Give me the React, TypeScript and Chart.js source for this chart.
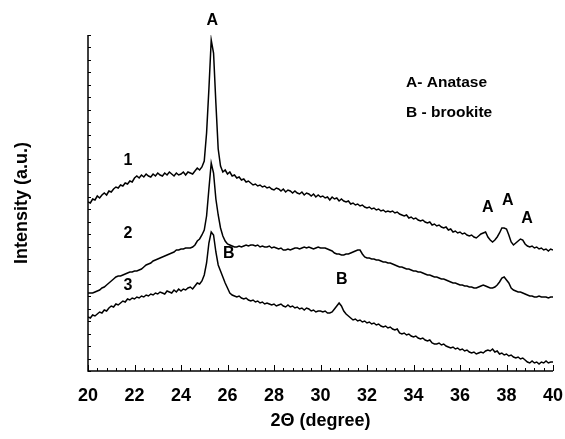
import { useEffect, useRef } from "react";
import { Chart, registerables } from "chart.js";

Chart.register(...registerables);

// 2θ grid (degrees), 0.1° steps
const angles = [
  20.0, 20.1, 20.2, 20.3, 20.4, 20.5, 20.6, 20.7, 20.8, 20.9,
  21.0, 21.1, 21.2, 21.3, 21.4, 21.5, 21.6, 21.7, 21.8, 21.9,
  22.0, 22.1, 22.2, 22.3, 22.4, 22.5, 22.6, 22.7, 22.8, 22.9,
  23.0, 23.1, 23.2, 23.3, 23.4, 23.5, 23.6, 23.7, 23.8, 23.9,
  24.0, 24.1, 24.2, 24.3, 24.4, 24.5, 24.6, 24.7, 24.8, 24.9,
  25.0, 25.1, 25.2, 25.3, 25.4, 25.5, 25.6, 25.7, 25.8, 25.9,
  26.0, 26.1, 26.2, 26.3, 26.4, 26.5, 26.6, 26.7, 26.8, 26.9,
  27.0, 27.1, 27.2, 27.3, 27.4, 27.5, 27.6, 27.7, 27.8, 27.9,
  28.0, 28.1, 28.2, 28.3, 28.4, 28.5, 28.6, 28.7, 28.8, 28.9,
  29.0, 29.1, 29.2, 29.3, 29.4, 29.5, 29.6, 29.7, 29.8, 29.9,
  30.0, 30.1, 30.2, 30.3, 30.4, 30.5, 30.6, 30.7, 30.8, 30.9,
  31.0, 31.1, 31.2, 31.3, 31.4, 31.5, 31.6, 31.7, 31.8, 31.9,
  32.0, 32.1, 32.2, 32.3, 32.4, 32.5, 32.6, 32.7, 32.8, 32.9,
  33.0, 33.1, 33.2, 33.3, 33.4, 33.5, 33.6, 33.7, 33.8, 33.9,
  34.0, 34.1, 34.2, 34.3, 34.4, 34.5, 34.6, 34.7, 34.8, 34.9,
  35.0, 35.1, 35.2, 35.3, 35.4, 35.5, 35.6, 35.7, 35.8, 35.9,
  36.0, 36.1, 36.2, 36.3, 36.4, 36.5, 36.6, 36.7, 36.8, 36.9,
  37.0, 37.1, 37.2, 37.3, 37.4, 37.5, 37.6, 37.7, 37.8, 37.9,
  38.0, 38.1, 38.2, 38.3, 38.4, 38.5, 38.6, 38.7, 38.8, 38.9,
  39.0, 39.1, 39.2, 39.3, 39.4, 39.5, 39.6, 39.7, 39.8, 39.9,
  40.0,
];

// Intensity (a.u.) of each sample (curves stacked with offsets as in the figure)
const sample1 = [
  169, 168, 172, 171, 175, 173, 176, 178, 176, 180,
  179, 182, 184, 183, 186, 185, 188, 187, 190, 189,
  193, 195, 193, 196, 194, 197, 195, 194, 197, 195,
  198, 196, 195, 198, 196, 199, 197, 195, 198, 196,
  197, 199, 196, 199, 198, 197, 200, 203, 201, 204,
  210, 238, 282, 331, 318, 268, 222, 205, 199, 201,
  197, 199, 195, 196, 193, 194, 191, 192, 189, 190,
  188, 186, 187, 185, 186, 184, 185, 183, 184, 182,
  181, 183, 182, 180, 182, 179, 181, 180, 178, 180,
  178, 177, 179, 176, 178, 177, 175, 177, 174, 176,
  174, 175, 173, 174, 171, 174, 172, 173, 170, 172,
  170, 169, 170, 167, 168, 166, 167, 165, 166, 164,
  163, 164, 162, 163, 161, 162, 160, 161, 159, 160,
  159, 160, 158, 159, 157, 156, 155, 156, 153, 154,
  152, 153, 151, 150, 151, 149, 148, 149, 146, 147,
  145, 146, 144, 143, 144, 141, 142, 139, 140, 138,
  139, 137, 138, 136, 135, 136, 134, 133, 135, 137,
  138, 139, 134, 131, 129, 131, 134, 138, 143, 143,
  142, 136, 129, 126, 128, 130, 132, 131, 127, 125,
  124, 125, 123, 124, 122, 123, 121, 122, 120, 122,
  121,
];

const sample2 = [
  78, 78, 78, 79, 80, 81, 83, 84, 86, 88,
  90, 92, 94, 95, 95, 96, 97, 98, 99, 99,
  100, 100, 101, 102, 104, 106, 107, 108, 110, 111,
  112, 113, 114, 115, 116, 117, 118, 119, 121, 121,
  122, 122, 123, 123, 123, 124, 126, 130, 132, 136,
  141, 155, 182, 208, 198, 172, 156, 143, 135, 130,
  127, 126, 125, 124, 124, 125, 124, 125, 126, 125,
  126, 126, 125, 126, 124, 125, 124, 124, 125, 123,
  124, 123, 122, 123, 121, 121, 122, 121, 122, 123,
  123, 122, 123, 124, 123, 124, 123, 122, 123, 124,
  123, 123, 123, 122, 121, 120, 118, 117, 117, 116,
  116, 117, 117, 118, 119, 120, 121, 121, 117, 114,
  113, 113, 112, 112, 111, 111, 110, 109, 109, 108,
  108, 107, 106, 105, 104, 104, 103, 102, 102, 101,
  100, 100, 99, 99, 98, 97, 96, 96, 95, 94,
  94, 93, 92, 92, 91, 90, 89, 88, 88, 87,
  86, 86, 85, 85, 84, 84, 83, 83, 84, 85,
  86, 85, 84, 83, 83, 84, 86, 89, 93, 94,
  91, 88, 83, 81, 80, 79, 79, 78, 77, 76,
  75, 75, 74, 74, 75, 74, 74, 74, 73, 74,
  74,
];

const sample3 = [
  54, 53, 56, 55, 57, 59, 58, 61, 60, 63,
  65, 64, 67, 66, 68, 70, 69, 72, 71, 73,
  72, 74, 73, 75, 74, 76, 75, 77, 76, 78,
  77, 79, 78, 77, 80, 79, 78, 81, 79, 82,
  80, 82, 81, 83, 84, 82, 85, 88, 87, 90,
  96, 108, 128, 139, 136, 119, 106, 100, 94, 88,
  83, 78, 76, 75, 74, 75, 73, 72, 73, 71,
  70, 71, 69, 70, 68, 69, 67, 68, 67, 66,
  67, 65, 66, 67, 65, 64, 66, 64, 65, 63,
  64, 62, 63, 61, 63, 62, 60, 61, 59, 60,
  60, 59, 60, 58, 58, 59, 62, 65, 68, 65,
  60, 57, 55, 53, 51, 52, 50, 51, 49, 50,
  48, 49, 47, 48, 46, 47, 45, 44, 45, 43,
  44, 42, 41, 42, 38, 37, 38, 36, 37, 35,
  34, 35, 33, 32, 33, 31, 30, 31, 28, 27,
  27, 28, 26, 27, 25, 24, 23, 24, 22, 23,
  21, 22, 20, 21, 19, 18, 19, 17, 18, 19,
  18, 20, 21, 20, 22, 19, 20, 17, 18, 16,
  17, 15, 16, 14, 13, 14, 12, 13, 11, 9,
  8, 10, 8, 9, 7, 9, 8, 10, 8, 9,
  9,
];

// Annotation texts and their positions in data units (2θ, intensity)
const noteTexts = ["A", "1", "2", "3", "B", "B", "A", "A", "A"];
const noteAngles = [25.35, 21.72, 21.72, 21.72, 26.06, 30.92, 37.2, 38.06, 38.88];
const noteLevels = [350, 210, 137, 85, 117, 91, 163, 170, 152];

const legendTexts = ["A- Anatase", "B - brookite"];
const legendAngle = 33.68;
const legendLevels = [288, 258];

const X_MIN = 20;
const X_MAX = 40;
const Y_MIN = 0;
const Y_MAX = 336;
const Y_MINOR_COUNT = 27;

const FONT = "'Liberation Sans', Arial, Helvetica, sans-serif";

const decorPlugin = {
  id: "xrdDecor",
  afterDatasetsDraw(chart: any) {
    const { ctx, chartArea, scales } = chart;
    const { left, right, top, bottom } = chartArea;
    const xs = scales.x;
    const ys = scales.y;
    ctx.save();
    ctx.strokeStyle = "#000";
    ctx.lineWidth = 1.5;
    ctx.beginPath();
    ctx.moveTo(left, top);
    ctx.lineTo(left, bottom);
    ctx.lineTo(right, bottom);
    ctx.stroke();

    ctx.lineWidth = 1;
    ctx.beginPath();
    for (let i = 0; i <= 50; i++) {
      const px = Math.round(xs.getPixelForValue(X_MIN + i * 0.4)) + 0.5;
      const len = i % 5 === 0 ? 6 : 3;
      ctx.moveTo(px, bottom);
      ctx.lineTo(px, bottom - len);
    }
    for (let k = 0; k <= Y_MINOR_COUNT; k++) {
      const py = Math.round(ys.getPixelForValue(Y_MIN + (k * (Y_MAX - Y_MIN)) / Y_MINOR_COUNT)) + 0.5;
      ctx.moveTo(left, py);
      ctx.lineTo(left + 3, py);
    }
    ctx.stroke();

    ctx.fillStyle = "#000";
    ctx.textBaseline = "middle";
    ctx.textAlign = "center";
    ctx.font = `bold 16px ${FONT}`;
    noteTexts.forEach((t, i) => {
      ctx.fillText(t, xs.getPixelForValue(noteAngles[i]), ys.getPixelForValue(noteLevels[i]));
    });
    ctx.textAlign = "left";
    ctx.font = `bold 15.5px ${FONT}`;
    legendTexts.forEach((t, i) => {
      ctx.fillText(t, xs.getPixelForValue(legendAngle), ys.getPixelForValue(legendLevels[i]));
    });
    ctx.restore();
  },
};

export default function App() {
  const canvasRef = useRef<HTMLCanvasElement | null>(null);

  useEffect(() => {
    const canvas = canvasRef.current;
    if (!canvas) return;
    const mk = (ys: number[]) => ys.map((v, i) => ({ x: angles[i], y: v }));
    const chart = new Chart(canvas, {
      type: "line",
      data: {
        datasets: [sample1, sample2, sample3].map((s, i) => ({
          label: `Sample ${i + 1}`,
          data: mk(s),
          borderColor: "#000",
          borderWidth: 1.5,
          pointRadius: 0,
          tension: 0,
          fill: false,
        })),
      },
      options: {
        responsive: false,
        animation: false,
        devicePixelRatio: 1,
        layout: { padding: { top: 35, right: 0, bottom: 0, left: 0 } },
        plugins: {
          legend: { display: false },
          tooltip: { enabled: false },
        },
        scales: {
          x: {
            type: "linear",
            min: X_MIN,
            max: X_MAX,
            grid: { display: false, drawTicks: false },
            border: { display: false },
            ticks: {
              stepSize: 2,
              color: "#000",
              padding: 14,
              maxRotation: 0,
              font: { family: FONT, size: 18, weight: "bold" },
            },
            title: {
              display: true,
              text: "2Θ (degree)",
              color: "#000",
              padding: { top: 0, bottom: 7 },
              font: { family: FONT, size: 18, weight: "bold" },
            },
            afterFit: (s: any) => {
              s.height = 68;
              s.paddingLeft = 0;
              s.paddingRight = 12;
            },
          },
          y: {
            type: "linear",
            min: Y_MIN,
            max: Y_MAX,
            grid: { display: false, drawTicks: false },
            border: { display: false },
            ticks: { display: false },
            title: {
              display: true,
              text: "Intensity (a.u.)",
              color: "#000",
              padding: { top: 11, bottom: 0 },
              font: { family: FONT, size: 18, weight: "bold" },
            },
            afterFit: (s: any) => {
              s.width = 88;
            },
          },
        },
      },
      plugins: [decorPlugin],
    });
    return () => chart.destroy();
  }, []);

  return (
    <div style={{ position: "fixed", left: 0, top: 0, width: 565, height: 439, background: "#fff" }}>
      <canvas ref={canvasRef} width={565} height={439} style={{ display: "block" }} />
    </div>
  );
}
